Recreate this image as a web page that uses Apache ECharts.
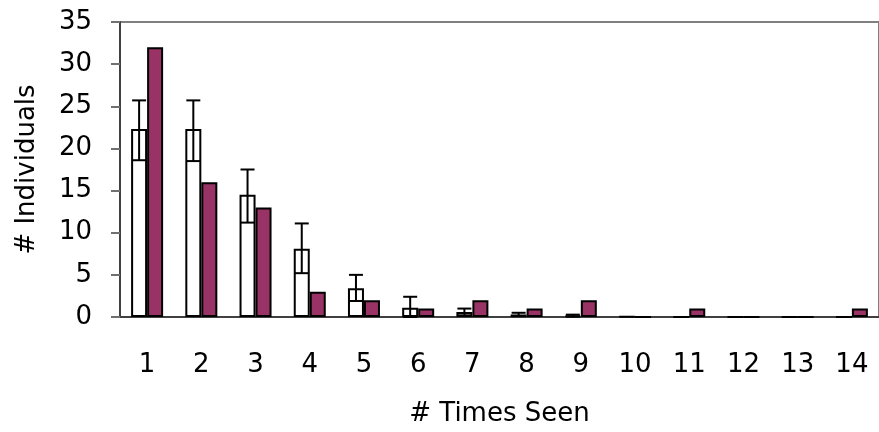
<!DOCTYPE html>
<html>
<head>
<meta charset="utf-8">
<script src="https://cdn.jsdelivr.net/npm/echarts@6/dist/echarts.min.js"></script>
<style>
  html, body { margin: 0; padding: 0; background: #fff; }
  #chart { width: 879px; height: 432px; }
</style>
</head>
<body>
<div id="chart"></div>
<script>
const timesSeen = ['1', '2', '3', '4', '5', '6', '7', '8', '9', '10', '11', '12', '13', '14']
const observedMean = [22.3, 22.3, 14.5, 8.1, 3.4, 1.1, 0.6, 0.3, 0.15, 0.05, 0, 0, 0, 0]
const observedLow = [18.6, 18.5, 11.2, 5.2, 1.9, 0, 0.2, 0.1, 0.05, 0.05, 0, 0, 0, 0]
const observedHigh = [25.7, 25.7, 17.5, 11.1, 5.0, 2.4, 1.0, 0.5, 0.28, 0.05, 0, 0, 0, 0]
const expected = [32, 16, 13, 3, 2, 1, 2, 1, 2, 0, 1, 0, 0, 1]
const yTicks = [0, 5, 10, 15, 20, 25, 30, 35]

const BAR_W = 16
const FONT = 'DejaVu Sans'
const chart = echarts.init(document.getElementById('chart'))

const errorData = timesSeen.map((c, i) => [i, observedLow[i], observedHigh[i]])

function renderErrorBar(params, api) {
  const idx = api.value(0)
  if (observedHigh[idx] === observedLow[idx]) return null
  const hi = api.coord([idx, api.value(2)])
  const lo = api.coord([idx, api.value(1)])
  const x = hi[0] - BAR_W / 2
  const half = 7
  const style = { stroke: '#000', lineWidth: 2 }
  return {
    type: 'group',
    children: [
      { type: 'line', shape: { x1: x, y1: hi[1], x2: x, y2: lo[1] }, style },
      { type: 'line', shape: { x1: x - half, y1: hi[1], x2: x + half, y2: hi[1] }, style },
      { type: 'line', shape: { x1: x - half, y1: lo[1], x2: x + half, y2: lo[1] }, style }
    ]
  }
}

chart.setOption({
  animation: false,
  textStyle: { fontFamily: FONT },
  grid: {
    left: 120, top: 22, right: -10, bottom: 114,
    show: true, borderColor: '#808080', borderWidth: 2, backgroundColor: 'transparent'
  },
  xAxis: {
    type: 'category',
    data: timesSeen,
    name: '# Times Seen',
    nameLocation: 'middle',
    nameGap: 84,
    nameTextStyle: { fontSize: 26, color: '#000', fontFamily: FONT },
    axisLine: { lineStyle: { color: '#404040', width: 2 } },
    axisTick: { length: 10, lineStyle: { color: '#707070', width: 2 } },
    axisLabel: { fontSize: 26, color: '#000', margin: 35, fontFamily: FONT }
  },
  yAxis: {
    type: 'value',
    min: yTicks[0],
    max: yTicks[yTicks.length - 1],
    interval: 5,
    name: '# Individuals',
    nameLocation: 'middle',
    nameGap: 80,
    nameTextStyle: { fontSize: 26, color: '#000', fontFamily: FONT },
    axisLine: { show: true, lineStyle: { color: '#404040', width: 2 } },
    axisTick: { show: true, length: 9, lineStyle: { color: '#707070', width: 2 } },
    axisLabel: { fontSize: 26, color: '#000', margin: 28, fontFamily: FONT },
    splitLine: { show: false }
  },
  series: [
    {
      name: 'Observed',
      type: 'bar',
      data: observedMean,
      barWidth: BAR_W,
      barGap: '0%',
      itemStyle: { color: '#fff', borderColor: '#000', borderWidth: 2 }
    },
    {
      name: 'Expected',
      type: 'bar',
      data: expected,
      barWidth: BAR_W,
      itemStyle: { color: '#993366', borderColor: '#000', borderWidth: 2 }
    },
    {
      name: 'Error',
      type: 'custom',
      data: errorData,
      renderItem: renderErrorBar,
      z: 5
    }
  ]
})
</script>
</body>
</html>
